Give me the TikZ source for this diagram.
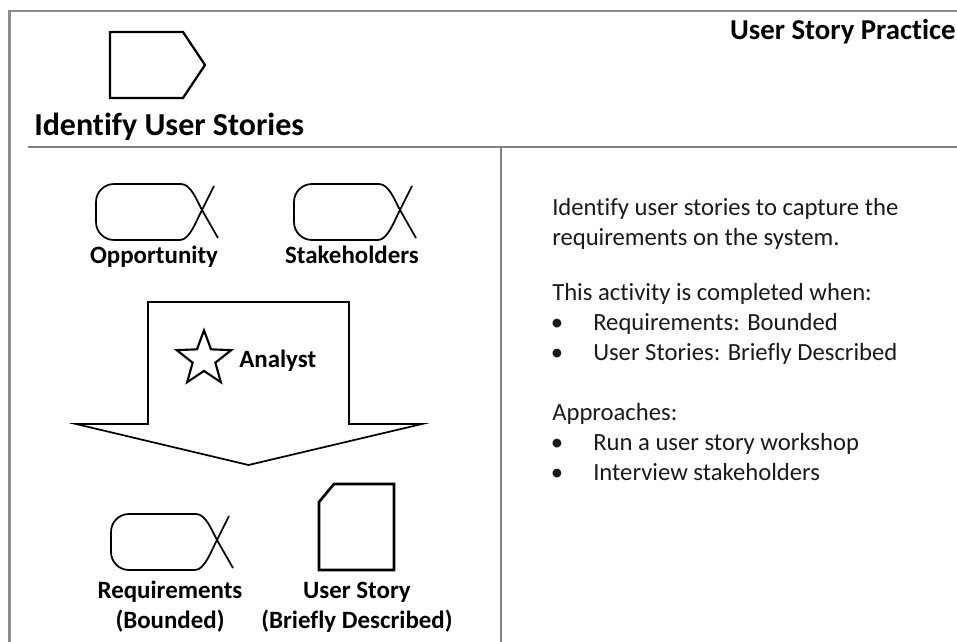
\documentclass[tikz,border=0pt]{standalone}
\usepackage{fontspec}
\setmainfont{Carlito}[Ligatures=CommonOff]
\usetikzlibrary{shapes.geometric}
\definecolor{framestroke}{HTML}{8C8C8C}
\definecolor{rulestroke}{HTML}{7F7F7F}
\definecolor{textdark}{HTML}{1A1A1A}
\newcommand{\itm}{\makebox[30.75pt][l]{\hspace{-1pt}\textbullet}}

\begin{document}
\begin{tikzpicture}[
          x=0.75pt, y=-0.75pt,
          % 1. Marco de la ficha
          frame/.style={draw=framestroke, line width=2.2pt},
          divider/.style={draw=rulestroke, line width=0.9pt},
          % 2. Textos (el ancla base cae en la ultima linea)
          headline/.style={font=\bfseries\fontsize{24}{29}\selectfont, anchor=base west, inner sep=0pt},
          practice/.style={font=\bfseries\fontsize{21.6}{26}\selectfont, anchor=base east, inner sep=0pt},
          iconlabel/.style={font=\bfseries\fontsize{18.7}{22.5}\selectfont, align=center, anchor=base, inner sep=0pt},
          body/.style={font=\fontsize{18.5}{22.3}\selectfont, text=textdark, align=left, anchor=base west, inner sep=0pt},
          % 3. Simbolos
          activity/.style={draw, line width=1.7pt, line join=miter},
          alphaline/.style={draw, line width=1.3pt},
          workline/.style={draw, line width=2pt},
          arrowline/.style={draw, line width=1.3pt, line join=miter},
          % 4. Alfa como figura
          alpha/.pic={
              \draw[alphaline] (85,0) -- (18,0) .. controls (8,0) and (0,8) .. (0,18) -- (0,38)
                  .. controls (0,48) and (8,56) .. (18,56) -- (84,56)
                  .. controls (94,56) and (101,35) .. (106,26) -- (118,2);
              \draw[alphaline] (85,0) .. controls (95,0) and (101,17) .. (106,26) -- (122,54);
              \coordinate (-lab) at (58,79);
          }
      ]

      \useasboundingbox (0,0) rectangle (957,642);

      % === MARCO ===
      \draw[frame] (9.5,642) -- (9.5,11) -- (957,11);
      \draw[divider] (28,147) -- (957,147);
      \draw[divider] (501,147) -- (501,642);

      % === CABECERA ===

      % Actividad
      \draw[activity] (110,32) -- (183,32) -- (205,65) -- (183,98) -- (110,98) -- cycle;
      \node[headline] (title) at (34,135) {Identify User Stories};
      \node[practice] (prac) at (956,40) {User Story Practice};

      % === ENTRADAS ===

      % Oportunidad
      \pic (opp) at (96,184) {alpha};
      \node[iconlabel] (oppl) at (opp-lab) {Opportunity};

      % Interesados
      \pic (stk) at (294,184) {alpha};
      \node[iconlabel] (stkl) at (stk-lab) {Stakeholders};

      % === FLECHA DE LA ACTIVIDAD ===
      \draw[arrowline] (148,302) -- (349,302) -- (349,424) -- (422,424) -- (248.5,465)
          -- (76,424) -- (148,424) -- cycle;
      \node[star, star points=5, star point ratio=2.4, draw, line width=1.6pt,
          minimum size=43pt, inner sep=0pt] (star) at (204,359) {};
      \node[iconlabel, anchor=base west] (analyst) at (239,367) {Analyst};

      % === RESULTADOS ===

      % Requisitos
      \pic (req) at (111,514) {alpha};
      \node[iconlabel] (reql) at (170,628) {Requirements\\(Bounded)};

      % Historia de usuario
      \draw[workline] (319,502) -- (334,484) -- (394,484) -- (394,570) -- (319,570) -- cycle;
      \node[iconlabel] (storyl) at (357,628) {User Story\\(Briefly Described)};

      % === DESCRIPCION ===
      \node[body] (intro) at (552,245) {Identify user stories to capture the\\requirements on the system.};
      \node[body] (done) at (552,360) {This activity is completed when:\\\itm Requirements: Bounded\\\itm User Stories: Briefly Described};
      \node[body] (ways) at (552,480) {Approaches:\\\itm Run a user story workshop\\\itm Interview stakeholders};

      \end{tikzpicture}
\end{document}
